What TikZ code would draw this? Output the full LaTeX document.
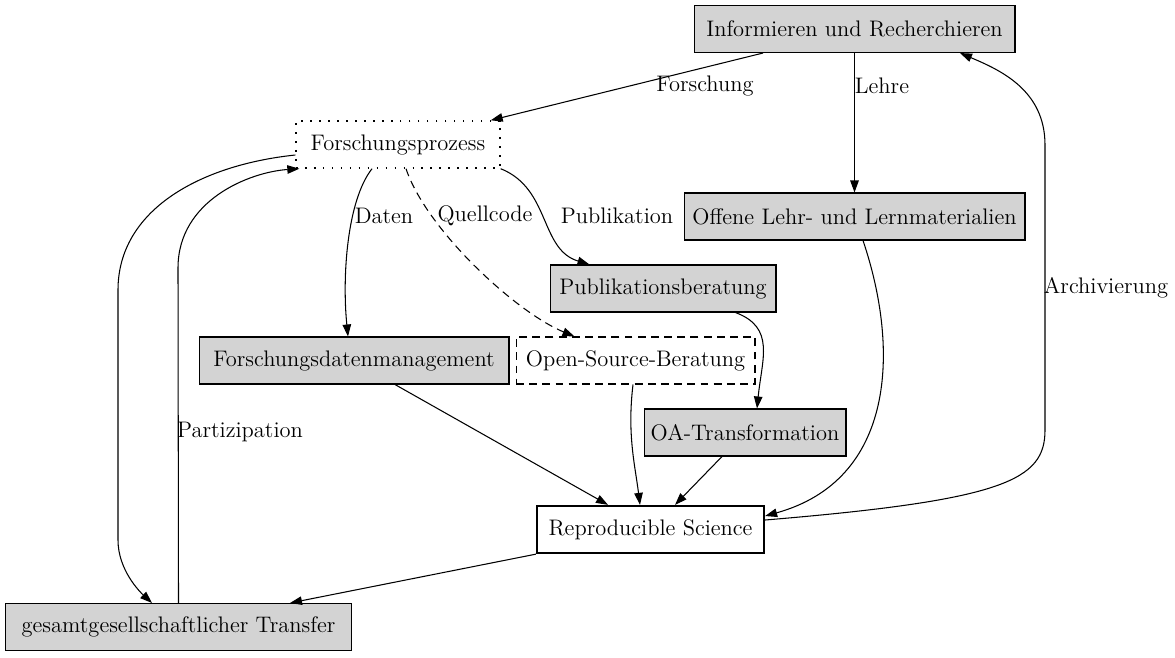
\documentclass[tikz,border=0pt]{standalone}
\usepackage{xcolor}
\usepackage{tikz}
\usetikzlibrary{arrows.meta,positioning,calc}
\definecolor{boxgray}{HTML}{D3D3D3}
\newcommand{\diagramfont}{\fontsize{12.8}{15}\selectfont}
\tikzset{
  servicebox/.style={draw=black,fill=boxgray,line width=0.6pt,align=center,
    minimum height=0.94cm,inner xsep=0.1cm,font=\diagramfont},
  processbox/.style={draw=black,line width=0.8pt,dash pattern=on 0.9pt off 4.2pt,
    minimum height=0.94cm,inner xsep=0.1cm,font=\diagramfont},
  sourcebox/.style={draw=black,line width=0.6pt,dash pattern=on 4.5pt off 3pt,
    minimum height=0.94cm,inner xsep=0.1cm,font=\diagramfont},
  goalbox/.style={draw=black,fill=white,line width=1.3pt,
    minimum height=0.94cm,inner xsep=0.1cm,font=\diagramfont},
  flowarrow/.style={-{Triangle[length=2.4mm,width=1.7mm]},line width=0.6pt},
  edgelabel/.style={font=\diagramfont,inner sep=1pt}
}
\begin{document}
\begin{tikzpicture}[x=0.02cm,y=-0.02cm]
  \useasboundingbox (0,0) rectangle (1175,657);
  % Knoten
  \node[servicebox,minimum width=6.42cm] (info) at (854.5,29) {Informieren und Recherchieren};
  \node[processbox,minimum width=4.08cm] (fp) at (398,144.5) {Forschungsprozess};
  \node[servicebox,minimum width=6.82cm] (olm) at (854.5,216.5) {Offene Lehr- und Lernmaterialien};
  \node[servicebox,minimum width=4.52cm] (pub) at (663,288.5) {Publikationsberatung};
  \node[servicebox,minimum width=6.2cm] (fdm) at (354,360.5) {Forschungsdatenmanagement};
  \node[sourcebox,minimum width=4.78cm] (osb) at (635.5,360.5) {Open-Source-Beratung};
  \node[servicebox,minimum width=4.04cm] (oat) at (745,432.5) {OA-Transformation};
  \node[goalbox,minimum width=4.54cm] (rs) at (650.5,529.5) {Reproducible Science};
  \node[servicebox,minimum width=6.94cm] (gt) at (178.5,627) {gesamtgesellschaftlicher Transfer};
  % Hilfspunkte
  \coordinate (archivlow) at (1045,430);
  \coordinate (archivhigh) at (1045,145);
  \coordinate (transferhigh) at (118,290);
  \coordinate (transferlow) at (118,540);
  \coordinate (partizipation) at (178,268);
  % Kanten
  \draw[flowarrow] ($(info.south)+(-91.5,0)$) -- ($(fp.north east)+(-10,0)$);
  \draw[flowarrow] (info.south) -- (olm.north);
  \draw[flowarrow] ($(fp.south)+(-26,0)$) .. controls +(-25,32) and +(-6,-60) .. ($(fdm.north)+(-6,0)$);
  \draw[flowarrow,dash pattern=on 4.5pt off 3pt] ($(fp.south)+(8,0)$) .. controls +(20,60) and +(-60,-25) .. ($(osb.north west)+(59,0)$);
  \draw[flowarrow] (fp.south east) .. controls +(50,20) and +(-50,-15) .. ($(pub.north west)+(40,0)$);
  \draw[flowarrow] ($(pub.south east)+(-41,0)$) .. controls +(40,15) and +(5,-50) .. ($(oat.north)+(12,0)$);
  \draw[flowarrow] ($(osb.south)+(-2.5,0)$) .. controls +(-6,50) and +(-5,-40) .. ($(rs.north)+(-10.5,0)$);
  \draw[flowarrow] ($(fdm.south)+(41,0)$) -- ($(rs.north)+(-42.5,0)$);
  \draw[flowarrow] ($(oat.south)+(-23,0)$) -- ($(rs.north)+(24.5,0)$);
  \draw[flowarrow] ($(olm.south)+(8.5,0)$) .. controls (900,350) and (895,480) .. ($(rs.east)+(0,-13.5)$);
  \draw[flowarrow] ($(rs.east)+(0,-9.5)$) .. controls (1005,500) and (1045,480) .. (archivlow)
    -- (archivhigh) .. controls (1045,90) and (1000,70) .. ($(info.south)+(105.5,0)$);
  \draw[flowarrow] (rs.south west) -- ($(gt.north)+(111.5,0)$);
  \draw[flowarrow] ($(fp.west)+(0,10.5)$) .. controls (200,165) and (118,210) .. (transferhigh)
    -- (transferlow) .. controls (118,570) and (140,592) .. ($(gt.north)+(-26.5,0)$);
  \draw[flowarrow] (gt.north) -- (partizipation) .. controls (178,200) and (250,172) .. ($(fp.south west)+(4,0)$);
  % Beschriftungen
  \node[edgelabel] (forschunglabel) at (705,86) {Forschung};
  \node[edgelabel] (lehrelabel) at (882,86) {Lehre};
  \node[edgelabel] (datenlabel) at (384,216) {Daten};
  \node[edgelabel] (quellcodelabel) at (485,216) {Quellcode};
  \node[edgelabel] (publikationlabel) at (617,216) {Publikation};
  \node[edgelabel] (archivlabel) at (1106,288) {Archivierung};
  \node[edgelabel] (partizipationlabel) at (240,432) {Partizipation};
\end{tikzpicture}
\end{document}
